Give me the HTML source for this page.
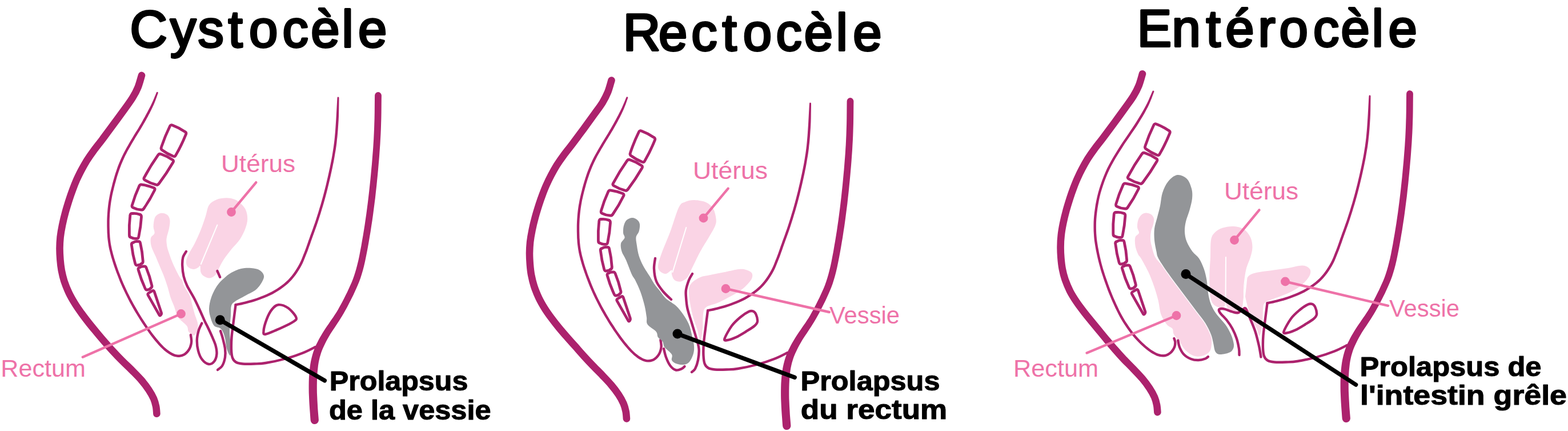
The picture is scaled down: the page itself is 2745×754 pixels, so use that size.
<!DOCTYPE html>
<html lang="fr">
<head>
<meta charset="utf-8">
<title>Cystocèle, Rectocèle, Entérocèle</title>
<style>
html,body{margin:0;padding:0;background:#fff;}
body{width:2745px;height:754px;overflow:hidden;}
svg{display:block;font-family:"Liberation Sans",sans-serif;}
</style>
</head>
<body>
<svg width="2745" height="754" viewBox="0 0 2745 754">
<rect width="2745" height="754" fill="#ffffff"/>
<g id="cystocele">
<text x="227.6 298.0 346.4 399.5 436.1 494.5 544.3 598.4 627.1" y="81.9" font-size="90.5" font-weight="normal" fill="#000" stroke="#000" stroke-width="3.8" stroke-linejoin="round">Cystocèle</text>
<path d="M283.3,372.7C286.3,372.7 290.6,373.9 293.0,376.0C295.4,378.1 296.9,381.5 297.4,385.4C297.9,389.3 296.9,394.4 296.0,399.6C295.1,404.8 292.4,411.8 291.7,416.5C291.0,421.2 291.5,424.2 292.0,428.0C292.5,431.8 292.8,433.4 294.6,439.0C296.4,444.6 299.7,454.1 303.0,461.7C306.3,469.3 311.7,479.7 314.4,484.4C317.1,489.1 317.7,487.4 319.0,490.0C320.3,492.6 319.8,495.5 322.0,500.0C324.2,504.5 329.5,511.2 332.0,517.0C334.5,522.8 335.5,529.5 337.0,535.0C338.5,540.5 339.5,545.0 341.0,550.0C342.5,555.0 345.2,560.5 346.0,565.0C346.8,569.5 346.8,573.5 346.0,577.0C345.2,580.5 342.5,584.5 341.0,586.0C339.5,587.5 338.8,587.0 337.0,586.0C335.2,585.0 331.7,582.7 330.0,580.0C328.3,577.3 330.0,574.2 327.0,570.0C324.0,565.8 315.8,560.8 312.0,555.0C308.2,549.2 306.7,540.7 304.5,535.0C302.3,529.3 300.7,526.6 298.8,521.0C296.9,515.4 295.1,507.4 293.2,501.3C291.3,495.2 289.6,490.0 287.5,484.4C285.4,478.8 283.0,473.5 280.4,467.4C277.8,461.3 274.6,453.7 272.0,447.6C269.4,441.5 266.2,435.9 264.9,430.7C263.6,425.5 263.1,420.3 264.0,416.5C264.9,412.7 269.7,411.3 270.5,408.0C271.3,404.7 268.6,400.9 268.6,396.7C268.6,392.5 269.4,386.1 270.5,382.6C271.6,379.2 272.9,377.6 275.0,376.0C277.1,374.4 280.3,372.7 283.3,372.7Z" fill="#fad4e5"/>
<path d="M396.0,346.3C400.8,346.1 404.4,346.9 408.0,348.0C411.6,349.1 414.0,349.8 417.6,352.8C421.2,355.8 427.0,361.0 429.6,366.0C432.2,371.0 433.2,377.2 433.2,382.8C433.2,388.4 431.8,393.6 429.6,399.6C427.4,405.6 424.0,412.8 420.0,418.8C416.0,424.8 410.4,429.6 405.6,435.6C400.8,441.6 395.0,449.0 391.2,454.8C387.4,460.6 385.2,466.0 382.8,470.4C380.4,474.8 379.4,478.5 376.8,481.2C374.2,483.9 370.4,486.1 367.2,486.5C364.0,486.9 360.2,485.3 357.6,483.6C355.0,481.9 352.8,479.5 351.6,476.4C350.4,473.3 351.2,466.4 350.4,465.0C349.6,463.6 348.8,467.0 346.8,468.0C344.8,469.0 341.4,471.3 338.4,471.1C335.4,470.9 330.9,469.1 328.8,466.8C326.7,464.5 325.7,460.8 325.9,457.2C326.1,453.6 327.5,450.4 330.0,445.2C332.5,440.0 337.2,433.2 340.8,426.0C344.4,418.8 348.4,410.0 351.6,402.0C354.8,394.0 357.6,385.2 360.0,378.0C362.4,370.8 362.8,363.6 366.0,358.8C369.2,354.0 374.2,351.3 379.2,349.2C384.2,347.1 391.2,346.5 396.0,346.3Z" fill="#fad4e5"/>
<line x1="380.4" y1="393.6" x2="351.8" y2="462.0" stroke="#fff" stroke-width="2.0" stroke-linecap="round"/>
<path d="M440.0,469.0C445.5,469.5 451.3,470.3 455.0,473.0C458.7,475.7 462.8,479.7 462.0,485.0C461.2,490.3 455.3,499.7 450.0,505.0C444.7,510.3 436.3,513.3 430.0,517.0C423.7,520.7 416.2,524.0 412.0,527.0C407.8,530.0 406.3,530.8 405.0,535.0C403.7,539.2 404.5,544.5 404.0,552.0C403.5,559.5 402.0,571.2 402.0,580.0C402.0,588.8 403.8,598.0 404.0,605.0C404.2,612.0 404.2,621.2 403.0,622.0C401.8,622.8 398.5,615.0 397.0,610.0C395.5,605.0 395.2,597.0 394.0,592.0C392.8,587.0 391.5,583.0 390.0,580.0C388.5,577.0 387.5,575.7 385.0,574.0C382.5,572.3 377.7,572.8 375.0,570.0C372.3,567.2 370.5,562.0 369.0,557.0C367.5,552.0 365.8,546.2 366.0,540.0C366.2,533.8 367.7,526.7 370.0,520.0C372.3,513.3 376.3,505.5 380.0,500.0C383.7,494.5 387.8,490.8 392.0,487.0C396.2,483.2 400.0,479.8 405.0,477.0C410.0,474.2 416.2,471.3 422.0,470.0C427.8,468.7 434.5,468.5 440.0,469.0Z" fill="#939598"/>
<path d="M248.0,131.9C246.9,135.4 244.2,146.1 241.6,152.6C239.0,159.1 236.1,164.5 232.2,170.8C228.4,177.1 223.9,182.9 218.4,190.6C212.9,198.2 205.9,207.8 199.4,216.6C193.0,225.4 185.4,235.5 179.5,243.4C173.5,251.3 168.3,257.7 163.7,263.9C159.1,270.1 155.6,275.2 152.0,280.8C148.5,286.5 145.4,292.1 142.4,297.8C139.4,303.4 136.7,309.1 134.1,314.7C131.6,320.4 129.5,325.8 127.3,331.7C125.1,337.5 123.1,343.2 121.0,349.7C118.9,356.3 116.6,363.6 114.6,370.9C112.6,378.2 110.6,386.4 109.1,393.8C107.6,401.1 106.4,408.0 105.6,414.8C104.9,421.5 104.6,427.9 104.5,434.5C104.5,441.1 104.9,447.9 105.4,454.2C105.9,460.6 106.6,466.5 107.7,472.8C108.9,479.0 110.3,485.2 112.4,491.8C114.6,498.3 117.5,505.7 120.6,512.2C123.7,518.8 127.4,525.0 131.1,531.0C134.7,537.0 138.6,542.3 142.7,548.0C146.8,553.7 151.2,559.4 155.6,565.0C160.0,570.6 164.7,576.2 169.3,581.8C173.8,587.2 178.3,592.6 183.1,598.0C187.8,603.4 192.4,608.8 197.5,614.2C202.6,619.8 208.0,625.4 213.7,631.0C219.3,636.6 225.5,642.3 231.2,648.0C236.8,653.7 242.6,659.4 247.5,665.0C252.4,670.6 256.8,676.5 260.4,681.9C264.0,687.3 267.0,692.7 269.1,697.5C271.2,702.4 272.2,706.7 273.1,711.1C274.0,715.5 274.2,721.7 274.4,723.8" fill="none" stroke="#ac226d" stroke-width="12.6" stroke-linecap="round" stroke-linejoin="round"/>
<path d="M274.0,161.6L273.2,163.4L272.2,165.9L271.0,168.8L269.7,171.9L268.4,175.0L267.2,177.7L266.1,180.1L265.0,182.4L264.0,184.5L262.9,186.7L261.7,189.0L260.5,191.3L259.2,193.8L257.8,196.4L256.4,199.1L254.9,201.8L253.5,204.4L252.0,207.1L250.6,209.6L249.3,212.0L247.9,214.4L246.5,216.9L244.9,219.5L243.3,222.2L241.6,225.2L239.7,228.2L237.7,231.3L235.7,234.6L233.6,238.1L231.4,241.7L229.1,245.6L226.6,249.8L224.1,254.2L221.6,258.6L219.2,263.0L216.9,267.2L214.9,271.2L213.1,275.1L211.3,278.9L209.7,282.7L208.1,286.6L206.5,290.6L205.0,294.7L203.6,298.9L202.2,303.1L200.9,307.3L199.6,311.7L198.3,316.2L197.0,321.0L195.8,325.9L194.5,331.0L193.3,336.1L192.2,341.2L191.3,346.1L190.4,350.9L189.7,355.6L189.1,360.2L188.6,364.8L188.2,369.4L187.9,373.9L187.6,378.3L187.4,382.7L187.3,387.0L187.3,391.3L187.3,395.5L187.4,399.6L187.5,403.6L187.6,407.5L187.9,411.3L188.1,415.1L188.5,418.9L189.0,422.7L189.5,426.3L190.1,429.9L190.7,433.4L191.5,436.9L192.4,440.6L193.4,444.6L194.5,448.7L195.8,453.1L197.2,457.6L198.7,462.2L200.3,466.9L202.0,471.7L203.8,476.7L205.8,481.8L207.8,487.1L209.9,492.4L212.2,497.7L214.5,502.9L216.9,508.1L219.4,513.3L222.0,518.5L224.6,523.7L227.3,528.9L230.1,534.1L233.0,539.2L236.0,544.4L239.1,549.5L242.2,554.6L245.3,559.6L248.5,564.5L251.7,569.3L254.9,574.0L258.2,578.7L261.4,583.3L264.7,587.7L268.0,591.9L271.2,595.9L274.5,599.7L277.7,603.4L281.0,606.9L284.2,610.0L287.3,612.9L290.5,615.5L293.6,617.8L296.7,619.8L299.7,621.5L302.7,622.9L305.7,624.0L308.5,624.6L311.4,624.9L314.1,624.9L316.7,624.6L319.2,623.9L321.5,623.1L323.8,621.9L325.9,620.5L327.9,618.7L329.6,616.9L331.2,614.9L332.6,612.9L333.8,610.8L334.9,608.5L335.7,606.2L336.4,603.8L336.9,601.5L337.2,599.1L337.4,596.6L337.2,593.9L336.9,591.3L336.6,589.0L336.3,587.1L336.1,585.7A2.20,2.20 0 0 0 331.7,586.3L331.9,587.7L332.2,589.7L332.6,591.9L332.8,594.3L333.0,596.6L332.9,598.7L332.6,600.7L332.1,602.8L331.5,604.8L330.8,606.9L329.9,608.8L328.9,610.5L327.7,612.3L326.3,614.0L324.8,615.6L323.2,617.0L321.5,618.2L319.8,619.1L317.9,619.7L315.9,620.2L313.8,620.5L311.6,620.6L309.3,620.3L306.9,619.7L304.4,618.8L301.8,617.6L299.0,616.0L296.1,614.1L293.2,612.0L290.2,609.6L287.2,606.9L284.1,603.8L281.0,600.4L277.8,596.8L274.6,593.0L271.4,589.1L268.2,585.0L265.0,580.7L261.8,576.2L258.5,571.6L255.3,566.8L252.2,562.0L249.0,557.2L245.9,552.3L242.8,547.2L239.8,542.1L236.9,537.0L234.0,531.9L231.2,526.8L228.5,521.7L225.9,516.6L223.3,511.4L220.9,506.2L218.5,501.1L216.2,495.9L214.0,490.7L211.9,485.4L209.9,480.2L207.9,475.2L206.1,470.3L204.5,465.5L202.9,460.8L201.4,456.3L200.0,451.8L198.8,447.5L197.7,443.4L196.7,439.6L195.8,436.0L195.1,432.5L194.4,429.1L193.8,425.7L193.3,422.1L192.9,418.4L192.5,414.8L192.3,411.0L192.0,407.3L191.9,403.4L191.8,399.4L191.7,395.4L191.7,391.3L191.7,387.1L191.8,382.8L192.0,378.5L192.2,374.2L192.6,369.8L193.0,365.3L193.5,360.8L194.1,356.2L194.8,351.6L195.6,346.9L196.5,342.0L197.6,337.1L198.8,332.0L200.0,327.0L201.3,322.1L202.6,317.4L203.8,312.9L205.1,308.6L206.4,304.4L207.8,300.3L209.2,296.2L210.7,292.2L212.2,288.3L213.8,284.4L215.4,280.7L217.1,276.9L218.9,273.1L220.9,269.2L223.0,265.0L225.4,260.7L227.9,256.4L230.4,252.0L232.9,247.8L235.2,243.9L237.3,240.3L239.4,236.9L241.5,233.6L243.4,230.5L245.3,227.5L247.1,224.5L248.7,221.7L250.3,219.1L251.7,216.6L253.1,214.2L254.5,211.7L255.9,209.2L257.3,206.6L258.8,203.9L260.2,201.1L261.7,198.4L263.0,195.8L264.3,193.2L265.5,190.8L266.6,188.5L267.6,186.3L268.7,184.0L269.7,181.7L270.7,179.2L271.8,176.4L273.0,173.3L274.2,170.0L275.2,167.0L276.1,164.5L276.8,162.6A1.50,1.50 0 0 0 274.0,161.6Z" fill="#ac226d"/>
<path d="M325.9,440.0C325.0,441.7 321.5,445.9 320.4,450.0C319.3,454.1 319.0,458.8 319.2,464.4C319.4,470.0 320.2,477.7 321.6,483.6C323.0,489.5 324.5,493.6 327.6,500.0C330.7,506.4 336.3,514.8 340.0,522.0C343.7,529.2 347.0,536.4 350.0,543.0C353.0,549.6 355.9,556.4 358.2,561.4C360.5,566.4 361.8,568.2 363.9,572.7C366.0,577.2 368.8,583.0 371.0,588.2C373.2,593.4 375.9,598.6 377.3,603.8C378.7,609.0 379.8,614.6 379.4,619.3C379.0,624.0 377.5,629.0 375.2,632.0C372.9,635.0 368.8,637.5 365.3,637.0C361.8,636.5 357.1,633.1 354.0,629.2C350.9,625.3 348.5,619.4 347.0,613.7C345.5,608.1 344.7,601.2 344.8,595.3C344.9,589.4 346.3,583.3 347.7,578.4C349.1,573.5 352.4,567.7 353.3,565.6" fill="none" stroke="#ac226d" stroke-width="4.4" stroke-linecap="round" stroke-linejoin="round"/>
<path d="M386.0,579.0C386.7,581.2 388.7,586.8 390.0,592.0C391.3,597.2 393.3,604.5 394.0,610.0C394.7,615.5 394.8,620.0 394.0,625.0C393.2,630.0 391.2,636.3 389.0,640.0C386.8,643.7 382.3,645.8 381.0,647.0" fill="none" stroke="#ac226d" stroke-width="4.4" stroke-linecap="round" stroke-linejoin="round"/>
<path d="M380.4,474L385.2,484.8" fill="none" stroke="#ac226d" stroke-width="4.4" stroke-linecap="round" stroke-linejoin="round"/>
<path d="M590.5,170.9L590.2,175.2L589.9,181.2L589.5,188.3L589.1,195.8L588.7,203.2L588.3,209.9L587.9,215.9L587.5,221.9L587.1,227.8L586.6,233.5L586.1,239.0L585.6,244.3L585.0,249.2L584.4,253.8L583.8,258.2L583.1,262.6L582.4,267.1L581.6,271.9L580.7,276.9L579.7,281.9L578.7,287.1L577.6,292.5L576.4,298.1L575.1,304.0L573.7,310.3L572.1,317.0L570.5,323.9L568.7,330.9L566.9,337.9L565.1,344.7L563.2,351.4L561.3,358.2L559.2,365.0L557.2,371.7L555.1,378.2L553.2,384.3L551.2,390.2L549.2,395.8L547.3,401.3L545.4,406.5L543.5,411.6L541.8,416.5L540.1,421.1L538.6,425.5L537.2,429.6L535.8,433.6L534.3,437.6L532.7,441.7L531.0,445.8L529.4,450.0L527.8,454.1L526.0,458.1L524.0,462.1L521.8,466.1L519.4,470.1L516.7,474.2L513.9,478.3L510.9,482.3L507.7,486.1L504.3,489.7L500.7,493.1L496.8,496.4L492.8,499.6L488.6,502.5L484.2,505.4L479.9,508.0L475.5,510.5L470.8,512.8L466.1,514.9L461.3,516.9L456.7,518.7L452.3,520.4L448.1,522.0L443.9,523.3L439.9,524.5L436.0,525.6L432.3,526.6L428.8,527.5L425.4,528.3L422.1,529.1L419.0,529.7L416.3,530.2L413.9,530.7L412.2,531.0A2.20,2.20 0 0 0 413.0,535.4L414.8,535.0L417.1,534.6L419.9,534.0L423.1,533.4L426.4,532.6L429.9,531.8L433.4,530.8L437.1,529.8L441.1,528.7L445.2,527.5L449.5,526.1L453.8,524.6L458.3,522.8L463.0,521.0L467.8,519.0L472.7,516.8L477.5,514.4L482.1,511.8L486.6,509.1L491.0,506.2L495.4,503.1L499.6,499.8L503.6,496.4L507.4,492.8L511.0,489.0L514.3,485.0L517.5,480.9L520.4,476.7L523.1,472.5L525.7,468.3L528.0,464.1L530.0,460.0L531.8,455.8L533.5,451.6L535.1,447.5L536.8,443.3L538.4,439.2L539.9,435.1L541.3,431.1L542.8,426.9L544.3,422.6L545.9,418.0L547.7,413.1L549.5,408.0L551.4,402.8L553.4,397.3L555.4,391.6L557.3,385.7L559.3,379.5L561.4,373.0L563.4,366.3L565.5,359.5L567.5,352.6L569.4,345.8L571.2,339.0L573.0,332.0L574.7,324.9L576.4,318.0L578.0,311.3L579.4,305.0L580.7,299.0L581.9,293.4L583.0,288.0L584.1,282.8L585.0,277.7L585.9,272.6L586.7,267.8L587.5,263.3L588.2,258.8L588.8,254.4L589.4,249.7L589.9,244.7L590.5,239.4L591.0,233.9L591.5,228.1L591.9,222.2L592.3,216.2L592.7,210.1L593.0,203.4L593.2,196.0L593.3,188.4L593.4,181.3L593.5,175.3L593.5,171.1A1.50,1.50 0 0 0 590.5,170.9Z" fill="#ac226d"/>
<path d="M412.6,533.2C411.9,538.5 409.7,555.5 408.5,565.0C407.3,574.5 406.1,582.2 405.5,590.0C404.9,597.8 404.8,606.0 405.0,612.0C405.2,618.0 405.7,622.4 407.0,626.0C408.3,629.6 410.0,631.8 413.0,633.5C416.0,635.2 419.7,636.0 425.0,636.5C430.3,637.0 438.3,636.8 445.0,636.5C451.7,636.2 455.8,636.5 465.0,635.0C474.2,633.5 489.2,630.4 500.0,627.5C510.8,624.6 521.3,620.9 530.0,617.5C538.7,614.1 548.3,608.8 552.0,607.0" fill="none" stroke="#ac226d" stroke-width="4.4" stroke-linecap="round" stroke-linejoin="round"/>
<path d="M656.1,166.9L656.0,174.3L655.9,184.9L655.8,196.6L655.6,207.4L655.3,216.8L655.0,226.1L654.6,235.1L654.2,243.4L653.7,251.0L653.3,257.8L652.8,264.6L652.2,271.8L651.6,279.4L651.0,287.1L650.2,295.2L649.4,303.9L648.5,313.5L647.4,323.8L646.3,334.3L645.1,344.6L643.9,354.6L642.6,364.6L641.3,374.4L639.9,384.1L638.5,393.7L637.0,403.0L635.5,412.2L633.9,421.2L632.4,430.2L630.7,439.0L629.1,447.5L627.4,455.4L625.6,462.8L623.8,469.8L621.9,476.3L619.9,482.6L617.8,488.5L615.5,494.2L613.0,499.7L610.5,505.3L607.9,510.9L605.2,516.3L602.5,521.7L599.8,527.0L597.1,532.1L594.3,537.1L591.6,541.9L588.9,546.4L586.2,550.6L583.5,554.7L580.8,558.6L578.0,562.6L575.4,566.5L572.7,570.3L570.0,574.2L567.4,578.2L564.9,582.2L562.4,586.4L560.0,590.6L557.7,594.8L555.6,598.9L553.5,603.1L551.6,607.5L549.8,612.0L548.2,616.6L546.8,621.3L545.5,626.3L544.3,631.5L543.3,637.0L542.5,642.7L541.8,648.7L541.3,654.8L540.9,661.1L540.7,667.6L540.6,674.2L540.6,680.8L540.7,687.6L541.0,694.4L541.3,701.3L541.7,708.2L542.2,715.7L542.8,723.6L543.3,730.7L543.7,735.6A7.10,7.10 0 0 0 557.9,734.4L557.5,729.5L556.9,722.5L556.3,714.7L555.9,707.3L555.5,700.6L555.2,693.8L554.9,687.2L554.8,680.7L554.8,674.2L554.9,667.9L555.1,661.7L555.4,655.7L555.8,650.0L556.4,644.4L557.0,639.1L557.8,634.0L558.8,629.3L559.8,624.9L561.1,620.7L562.4,616.5L563.9,612.5L565.6,608.6L567.4,604.7L569.3,600.7L571.3,596.7L573.5,592.7L575.8,588.8L578.1,584.8L580.5,581.0L583.0,577.3L585.6,573.4L588.2,569.4L590.8,565.4L593.5,561.4L596.3,557.1L599.1,552.6L601.9,547.8L604.7,542.8L607.5,537.7L610.2,532.5L613.0,527.1L615.8,521.6L618.6,515.9L621.2,510.2L623.8,504.5L626.3,498.8L628.8,492.8L631.1,486.4L633.2,479.8L635.2,472.9L637.1,465.7L638.9,458.1L640.6,449.8L642.3,441.2L644.0,432.3L645.6,423.3L647.1,414.2L648.7,404.9L650.1,395.4L651.6,385.9L653.0,376.1L654.3,366.1L655.6,356.1L656.9,345.9L658.0,335.6L659.2,325.0L660.2,314.7L661.2,305.1L662.0,296.3L662.7,288.1L663.4,280.3L664.0,272.7L664.5,265.5L665.0,258.7L665.5,251.7L665.9,244.1L666.4,235.6L666.8,226.6L667.1,217.2L667.4,207.6L667.6,196.8L667.7,185.0L667.8,174.4L667.9,167.1A5.90,5.90 0 0 0 656.1,166.9Z" fill="#ac226d"/>
<path d="M487.2,533.2C491.9,532.8 499.1,535.2 504.3,538.8C509.5,542.4 516.8,551.0 518.3,555.0C519.8,559.0 518.5,559.4 513.6,562.8C508.7,566.2 496.8,571.6 488.8,575.2C480.8,578.8 470.1,583.7 465.5,584.5C460.9,585.3 461.1,584.3 461.4,579.9C461.6,575.5 464.5,564.6 467.0,558.1C469.5,551.6 472.9,545.1 476.3,541.0C479.7,536.9 482.5,533.6 487.2,533.2Z" fill="none" stroke="#ac226d" stroke-width="4.4" stroke-linecap="round" stroke-linejoin="round"/>
<path d="M302.3,219.3Q313.5,223.5 323.4,230.2Q327.0,232.0 325.2,235.6Q317.8,254.1 307.8,271.4Q306.0,275.0 302.5,273.0Q292.8,269.2 284.5,263.0Q281.0,261.0 282.5,257.3Q288.6,238.7 297.2,221.2Q298.7,217.5 302.3,219.3Z" fill="#fff" stroke="#ac226d" stroke-width="4.8" stroke-linejoin="round"/>
<path d="M282.3,269.8Q292.5,273.2 301.4,279.2Q305.0,281.0 302.8,284.3Q291.7,303.5 278.2,321.2Q276.0,324.5 272.3,322.9Q262.7,320.4 254.2,315.3Q250.5,313.7 252.6,310.3Q263.4,290.1 276.6,271.4Q278.7,268.0 282.3,269.8Z" fill="#fff" stroke="#ac226d" stroke-width="4.8" stroke-linejoin="round"/>
<path d="M248.9,323.1Q259.1,324.4 268.6,328.4Q272.5,329.5 270.5,333.0Q262.5,349.5 252.0,364.5Q250.0,368.0 246.1,366.9Q239.6,366.6 233.9,363.6Q230.0,362.5 231.4,358.7Q236.2,341.8 243.6,325.8Q245.0,322.0 248.9,323.1Z" fill="#fff" stroke="#ac226d" stroke-width="4.8" stroke-linejoin="round"/>
<path d="M232.0,373.5Q238.2,372.9 244.0,375.0Q248.0,375.5 247.5,379.5Q246.5,396.9 242.8,414.0Q242.3,418.0 238.4,417.3Q234.0,417.9 230.1,415.7Q226.2,415.0 226.4,411.0Q225.7,393.9 227.8,377.0Q228.0,373.0 232.0,373.5Z" fill="#fff" stroke="#ac226d" stroke-width="4.8" stroke-linejoin="round"/>
<path d="M233.5,424.1Q237.1,421.9 241.2,422.5Q245.1,421.6 245.7,425.6Q249.3,440.7 250.2,456.3Q250.8,460.3 247.0,461.6Q244.6,464.0 241.3,463.7Q237.5,465.0 236.7,461.1Q232.2,445.3 230.4,428.9Q229.6,425.0 233.5,424.1Z" fill="#fff" stroke="#ac226d" stroke-width="4.8" stroke-linejoin="round"/>
<path d="M244.8,467.8Q247.6,465.6 251.1,466.1Q255.0,465.1 256.2,468.9Q262.3,483.5 265.7,498.9Q266.9,502.7 263.3,504.5Q261.9,506.8 259.2,506.6Q255.6,508.4 254.2,504.7Q246.9,489.1 242.3,472.5Q240.9,468.8 244.8,467.8Z" fill="#fff" stroke="#ac226d" stroke-width="4.8" stroke-linejoin="round"/>
<path d="M260.4,512.5L266.5,509.0Q269.1,507.5 270.1,510.3L282.4,547.1Q283.0,549.0 281.8,550.6L281.2,551.4Q280.0,553.0 279.0,551.3L259.3,516.6Q257.8,514.0 260.4,512.5Z" fill="#fff" stroke="#ac226d" stroke-width="4.8" stroke-linejoin="round"/>
<line x1="405.0" y1="371.0" x2="448.3" y2="319.2" stroke="#ee72a8" stroke-width="4.4" stroke-linecap="round"/>
<circle cx="405.0" cy="371.0" r="7.9" fill="#ee72a8"/>
<text x="387.0" y="300.8" font-size="41.6" font-weight="normal" fill="#ee72a8" textLength="130.0" lengthAdjust="spacingAndGlyphs">Utérus</text>
<line x1="317.0" y1="549.0" x2="144.8" y2="624.7" stroke="#ee72a8" stroke-width="4.4" stroke-linecap="round"/>
<circle cx="317.0" cy="549.0" r="7.9" fill="#ee72a8"/>
<text x="1.3" y="658.6" font-size="41.6" font-weight="normal" fill="#ee72a8" textLength="148.5" lengthAdjust="spacingAndGlyphs">Rectum</text>
<line x1="385.3" y1="559.8" x2="568.3" y2="665.8" stroke="#000" stroke-width="7.4" stroke-linecap="round"/>
<circle cx="385.3" cy="559.8" r="8.5" fill="#000"/>
<text x="576.8" y="683.4" font-size="48.6" font-weight="bold" fill="#000" stroke="#000" stroke-width="1.1" stroke-linejoin="round" textLength="242.5" lengthAdjust="spacingAndGlyphs">Prolapsus</text>
<text x="576.0" y="734.2" font-size="48.6" font-weight="bold" fill="#000" stroke="#000" stroke-width="1.1" stroke-linejoin="round" textLength="283.5" lengthAdjust="spacingAndGlyphs">de la vessie</text>
</g>
<g id="rectocele">
<text x="1090.8 1153.0 1210.2 1264.5 1300.7 1358.6 1407.8 1463.8 1493.2" y="87.5" font-size="90.5" font-weight="normal" fill="#000" stroke="#000" stroke-width="3.8" stroke-linejoin="round">Rectocèle</text>
<path d="M1216.0,350.0C1222.0,350.2 1230.6,351.5 1236.0,354.0C1241.4,356.5 1245.6,360.2 1248.5,365.0C1251.4,369.8 1252.9,377.5 1253.5,382.5C1254.1,387.5 1254.1,389.6 1252.0,395.0C1249.9,400.4 1245.3,407.5 1241.0,415.0C1236.7,422.5 1231.0,430.8 1226.0,440.0C1221.0,449.2 1214.8,462.5 1211.0,470.0C1207.2,477.5 1206.7,481.2 1203.5,485.0C1200.3,488.8 1195.8,491.7 1192.0,492.5C1188.2,493.3 1183.7,492.1 1181.0,490.0C1178.3,487.9 1176.8,482.9 1176.0,480.0C1175.2,477.1 1177.7,472.7 1176.0,472.5C1174.3,472.3 1169.3,478.6 1166.0,479.0C1162.7,479.4 1158.3,477.3 1156.0,475.0C1153.7,472.7 1151.6,470.4 1152.0,465.0C1152.4,459.6 1154.9,452.5 1158.5,442.5C1162.1,432.5 1168.5,418.3 1173.5,405.0C1178.5,391.7 1184.1,371.2 1188.5,362.5C1192.9,353.8 1195.4,355.1 1200.0,353.0C1204.6,350.9 1210.0,349.8 1216.0,350.0Z" fill="#fad4e5"/>
<line x1="1201.3" y1="398.0" x2="1177.5" y2="476.0" stroke="#fff" stroke-width="2.0" stroke-linecap="round"/>
<path d="M1316.0,477.5C1314.3,474.9 1309.8,473.1 1306.0,472.0C1302.2,470.9 1299.8,470.3 1293.5,471.0C1287.2,471.7 1276.8,474.3 1268.5,476.0C1260.2,477.7 1250.6,479.5 1243.5,481.0C1236.4,482.5 1231.4,482.7 1226.0,485.0C1220.6,487.3 1214.3,491.2 1211.0,495.0C1207.7,498.8 1206.4,501.2 1206.0,507.5C1205.6,513.8 1207.2,524.6 1208.5,532.5C1209.8,540.4 1211.4,547.5 1213.5,555.0C1215.6,562.5 1218.9,570.4 1221.0,577.5C1223.1,584.6 1224.5,597.9 1226.0,597.5C1227.5,597.1 1229.2,582.9 1230.0,575.0C1230.8,567.1 1230.0,556.2 1231.0,550.0C1232.0,543.8 1231.8,540.8 1236.0,537.5C1240.2,534.2 1249.3,532.9 1256.0,530.0C1262.7,527.1 1269.8,523.3 1276.0,520.0C1282.2,516.7 1288.5,513.3 1293.5,510.0C1298.5,506.7 1302.2,503.8 1306.0,500.0C1309.8,496.2 1314.3,491.2 1316.0,487.5C1317.7,483.8 1317.7,480.1 1316.0,477.5Z" fill="#fad4e5"/>
<path d="M1070.5,140.5C1069.4,144.0 1066.7,154.7 1064.1,161.2C1061.5,167.7 1058.6,173.1 1054.8,179.4C1050.9,185.7 1046.4,191.5 1040.9,199.2C1035.4,206.8 1028.4,216.4 1022.0,225.2C1015.5,234.0 1007.9,244.1 1002.0,252.0C996.0,259.9 990.8,266.3 986.2,272.5C981.6,278.7 978.1,283.8 974.5,289.4C971.0,295.1 967.9,300.7 964.9,306.4C961.9,312.0 959.2,317.7 956.7,323.3C954.1,329.0 952.0,334.4 949.8,340.3C947.6,346.1 945.6,351.8 943.5,358.3C941.4,364.9 939.1,372.2 937.1,379.5C935.1,386.8 933.1,395.0 931.6,402.4C930.1,409.7 928.9,416.6 928.1,423.4C927.4,430.1 927.1,436.5 927.0,443.1C927.0,449.7 927.4,456.5 927.9,462.9C928.4,469.2 929.0,475.1 930.2,481.4C931.4,487.6 932.8,493.8 935.0,500.4C937.1,506.9 940.0,514.3 943.2,520.9C946.3,527.4 949.9,533.6 953.6,539.6C957.3,545.6 961.2,550.9 965.4,556.6C969.6,562.3 974.1,568.0 978.8,573.6C983.4,579.2 988.4,584.9 993.2,590.4C998.0,595.9 1002.8,601.2 1007.7,606.6C1012.5,612.0 1017.2,617.4 1022.2,622.9C1027.2,628.4 1032.4,634.0 1037.8,639.6C1043.1,645.2 1049.1,650.9 1054.5,656.6C1059.9,662.3 1065.5,668.0 1070.2,673.6C1075.0,679.2 1079.4,685.1 1083.0,690.5C1086.6,695.9 1089.5,701.3 1091.6,706.1C1093.7,711.0 1094.7,715.3 1095.6,719.7C1096.5,724.1 1096.7,730.3 1096.9,732.4" fill="none" stroke="#ac226d" stroke-width="12.6" stroke-linecap="round" stroke-linejoin="round"/>
<path d="M1096.5,170.2L1095.7,172.0L1094.7,174.5L1093.5,177.4L1092.2,180.5L1090.9,183.6L1089.7,186.3L1088.6,188.7L1087.5,191.0L1086.5,193.1L1085.4,195.3L1084.2,197.6L1083.0,199.9L1081.7,202.4L1080.3,205.0L1078.9,207.7L1077.4,210.4L1076.0,213.0L1074.5,215.7L1073.1,218.2L1071.8,220.6L1070.4,223.0L1069.0,225.5L1067.4,228.1L1065.8,230.8L1064.1,233.8L1062.2,236.8L1060.2,239.9L1058.2,243.2L1056.1,246.7L1053.9,250.3L1051.6,254.2L1049.1,258.4L1046.6,262.8L1044.1,267.2L1041.7,271.6L1039.4,275.8L1037.4,279.8L1035.6,283.7L1033.8,287.5L1032.2,291.3L1030.6,295.2L1029.0,299.2L1027.5,303.3L1026.1,307.5L1024.7,311.7L1023.4,315.9L1022.1,320.3L1020.8,324.8L1019.5,329.6L1018.3,334.5L1017.0,339.6L1015.8,344.7L1014.7,349.8L1013.8,354.7L1012.9,359.5L1012.2,364.2L1011.6,368.8L1011.1,373.4L1010.7,378.0L1010.4,382.5L1010.1,386.9L1009.9,391.3L1009.8,395.6L1009.8,399.9L1009.8,404.1L1009.9,408.2L1010.0,412.2L1010.1,416.1L1010.4,419.9L1010.6,423.7L1011.0,427.5L1011.5,431.3L1012.0,434.9L1012.6,438.5L1013.2,442.0L1014.0,445.5L1014.9,449.2L1015.9,453.2L1017.0,457.3L1018.3,461.7L1019.7,466.2L1021.2,470.8L1022.8,475.5L1024.5,480.3L1026.3,485.3L1028.3,490.4L1030.3,495.7L1032.4,501.0L1034.7,506.3L1037.0,511.5L1039.4,516.7L1041.9,521.9L1044.5,527.1L1047.1,532.3L1049.8,537.5L1052.6,542.7L1055.5,547.8L1058.5,553.0L1061.6,558.1L1064.7,563.2L1067.8,568.2L1071.0,573.1L1074.2,577.9L1077.4,582.6L1080.7,587.3L1083.9,591.9L1087.2,596.3L1090.5,600.5L1093.7,604.5L1097.0,608.3L1100.2,612.0L1103.5,615.5L1106.7,618.6L1109.8,621.5L1113.0,624.1L1116.1,626.4L1119.2,628.4L1122.2,630.1L1125.2,631.5L1128.2,632.6L1131.0,633.2L1133.9,633.5L1136.6,633.5L1139.2,633.2L1141.7,632.5L1144.0,631.7L1146.3,630.5L1148.4,629.1L1150.4,627.3L1152.1,625.5L1153.7,623.5L1155.1,621.5L1156.3,619.4L1157.4,617.1L1158.2,614.8L1158.9,612.4L1159.4,610.1L1159.7,607.7L1159.9,605.2L1159.7,602.5L1159.4,599.9L1159.1,597.6L1158.8,595.7L1158.6,594.3A2.20,2.20 0 0 0 1154.2,594.9L1154.4,596.3L1154.7,598.3L1155.1,600.5L1155.3,602.9L1155.5,605.2L1155.4,607.3L1155.1,609.3L1154.6,611.4L1154.0,613.4L1153.3,615.5L1152.4,617.4L1151.4,619.1L1150.2,620.9L1148.8,622.6L1147.3,624.2L1145.7,625.6L1144.0,626.8L1142.3,627.7L1140.4,628.3L1138.4,628.8L1136.3,629.1L1134.1,629.2L1131.8,628.9L1129.4,628.3L1126.9,627.4L1124.3,626.2L1121.5,624.6L1118.6,622.7L1115.7,620.6L1112.7,618.2L1109.7,615.5L1106.6,612.4L1103.5,609.0L1100.3,605.4L1097.1,601.6L1093.9,597.7L1090.7,593.6L1087.5,589.3L1084.3,584.8L1081.0,580.2L1077.8,575.4L1074.7,570.6L1071.5,565.8L1068.4,560.9L1065.3,555.8L1062.3,550.7L1059.4,545.6L1056.5,540.5L1053.7,535.4L1051.0,530.3L1048.4,525.2L1045.8,520.0L1043.4,514.8L1041.0,509.7L1038.7,504.5L1036.5,499.3L1034.4,494.0L1032.4,488.8L1030.4,483.8L1028.6,478.9L1027.0,474.1L1025.4,469.4L1023.9,464.9L1022.5,460.4L1021.3,456.1L1020.2,452.0L1019.2,448.2L1018.3,444.6L1017.6,441.1L1016.9,437.7L1016.3,434.3L1015.8,430.7L1015.4,427.0L1015.0,423.4L1014.8,419.6L1014.5,415.9L1014.4,412.0L1014.3,408.0L1014.2,404.0L1014.2,399.9L1014.2,395.7L1014.3,391.4L1014.5,387.1L1014.7,382.8L1015.1,378.4L1015.5,373.9L1016.0,369.4L1016.6,364.8L1017.3,360.2L1018.1,355.5L1019.0,350.6L1020.1,345.7L1021.3,340.6L1022.5,335.6L1023.8,330.7L1025.1,326.0L1026.3,321.5L1027.6,317.2L1028.9,313.0L1030.3,308.9L1031.7,304.8L1033.2,300.8L1034.7,296.9L1036.3,293.0L1037.9,289.3L1039.6,285.5L1041.4,281.7L1043.4,277.8L1045.5,273.6L1047.9,269.3L1050.4,265.0L1052.9,260.6L1055.4,256.4L1057.7,252.5L1059.8,248.9L1061.9,245.5L1064.0,242.2L1065.9,239.1L1067.8,236.1L1069.6,233.1L1071.2,230.3L1072.8,227.7L1074.2,225.2L1075.6,222.8L1077.0,220.3L1078.4,217.8L1079.8,215.2L1081.3,212.5L1082.7,209.7L1084.2,207.0L1085.5,204.4L1086.8,201.8L1088.0,199.4L1089.1,197.1L1090.1,194.9L1091.2,192.6L1092.2,190.3L1093.2,187.8L1094.3,185.0L1095.5,181.9L1096.7,178.6L1097.7,175.6L1098.6,173.1L1099.3,171.2A1.50,1.50 0 0 0 1096.5,170.2Z" fill="#ac226d"/>
<path d="M1162.0,610.0C1162.7,612.5 1164.1,620.0 1166.0,625.0C1167.9,630.0 1170.6,636.2 1173.5,640.0C1176.4,643.8 1180.2,646.7 1183.5,647.5C1186.8,648.3 1191.0,646.1 1193.5,645.0C1196.0,643.9 1197.7,641.7 1198.5,641.0" fill="none" stroke="#ac226d" stroke-width="4.4" stroke-linecap="round" stroke-linejoin="round"/>
<path d="M1107.0,381.0C1110.2,381.0 1113.8,383.1 1116.0,385.0C1118.2,386.9 1119.6,389.2 1120.0,392.5C1120.4,395.8 1119.6,401.2 1118.5,405.0C1117.4,408.8 1114.1,410.8 1113.5,415.0C1112.9,419.2 1114.2,424.6 1115.0,430.0C1115.8,435.4 1116.7,441.7 1118.5,447.5C1120.3,453.3 1122.7,458.8 1126.0,465.0C1129.3,471.2 1135.2,479.6 1138.5,485.0C1141.8,490.4 1143.1,493.3 1146.0,497.5C1148.9,501.7 1152.7,505.8 1156.0,510.0C1159.3,514.2 1161.4,518.3 1166.0,522.5C1170.6,526.7 1178.5,530.4 1183.5,535.0C1188.5,539.6 1192.2,544.6 1196.0,550.0C1199.8,555.4 1203.5,561.7 1206.0,567.5C1208.5,573.3 1209.5,578.8 1211.0,585.0C1212.5,591.2 1214.6,599.2 1215.0,605.0C1215.4,610.8 1215.0,615.2 1213.5,620.0C1212.0,624.8 1208.9,631.0 1206.0,634.0C1203.1,637.0 1199.8,637.7 1196.0,638.0C1192.2,638.3 1186.8,637.3 1183.5,636.0C1180.2,634.7 1177.2,632.7 1176.0,630.0C1174.8,627.3 1178.1,623.8 1176.0,620.0C1173.9,616.2 1166.2,611.2 1163.5,607.5C1160.8,603.8 1161.9,600.4 1160.0,597.5C1158.1,594.6 1153.9,592.9 1152.0,590.0C1150.1,587.1 1151.6,583.8 1148.5,580.0C1145.4,576.2 1136.2,571.7 1133.5,567.5C1130.8,563.3 1132.8,560.4 1132.0,555.0C1131.2,549.6 1130.3,542.5 1128.5,535.0C1126.7,527.5 1123.8,517.5 1121.0,510.0C1118.2,502.5 1114.5,495.0 1112.0,490.0C1109.5,485.0 1108.7,485.8 1106.0,480.0C1103.3,474.2 1098.9,461.7 1096.0,455.0C1093.1,448.3 1090.0,444.8 1088.5,440.0C1087.0,435.2 1086.2,430.0 1087.0,426.0C1087.8,422.0 1092.8,419.1 1093.5,416.0C1094.2,412.9 1091.2,411.0 1091.0,407.5C1090.8,404.0 1091.0,398.8 1092.0,395.0C1093.0,391.2 1094.5,387.3 1097.0,385.0C1099.5,382.7 1103.8,381.0 1107.0,381.0Z" fill="#939598"/>
<path d="M1147.0,452.0C1146.7,455.0 1144.7,463.3 1145.0,470.0C1145.3,476.7 1146.3,485.3 1149.0,492.0C1151.7,498.7 1156.7,504.7 1161.0,510.0C1165.3,515.3 1172.7,521.7 1175.0,524.0" fill="none" stroke="#ac226d" stroke-width="4.4" stroke-linecap="round" stroke-linejoin="round"/>
<path d="M1212.0,479.0C1211.0,480.8 1207.8,485.3 1206.0,490.0C1204.2,494.7 1201.8,502.0 1201.0,507.0C1200.2,512.0 1200.6,514.5 1201.0,520.0C1201.4,525.5 1201.8,532.5 1203.5,540.0C1205.2,547.5 1208.5,556.7 1211.0,565.0C1213.5,573.3 1216.4,582.5 1218.5,590.0C1220.6,597.5 1222.9,603.3 1223.5,610.0C1224.1,616.7 1223.1,624.2 1222.0,630.0C1220.9,635.8 1218.8,641.5 1217.0,645.0C1215.2,648.5 1212.0,650.0 1211.0,651.0" fill="none" stroke="#ac226d" stroke-width="4.4" stroke-linecap="round" stroke-linejoin="round"/>
<path d="M1417.0,180.9L1416.7,185.2L1416.4,191.2L1416.0,198.3L1415.6,205.8L1415.2,213.2L1414.8,219.9L1414.4,225.9L1414.0,231.9L1413.6,237.8L1413.1,243.5L1412.6,249.0L1412.1,254.3L1411.5,259.2L1410.9,263.8L1410.3,268.2L1409.6,272.6L1408.9,277.1L1408.1,281.9L1407.2,286.9L1406.2,291.9L1405.2,297.1L1404.1,302.5L1402.9,308.1L1401.6,314.0L1400.2,320.3L1398.6,327.0L1397.0,333.9L1395.2,340.9L1393.4,347.9L1391.6,354.7L1389.7,361.4L1387.8,368.2L1385.7,375.0L1383.7,381.7L1381.6,388.2L1379.7,394.3L1377.7,400.2L1375.7,405.8L1373.8,411.3L1371.9,416.5L1370.0,421.6L1368.3,426.5L1366.6,431.1L1365.1,435.5L1363.7,439.6L1362.3,443.6L1360.8,447.6L1359.2,451.7L1357.5,455.8L1355.9,460.0L1354.3,464.1L1352.5,468.1L1350.5,472.1L1348.3,476.1L1345.9,480.1L1343.2,484.2L1340.4,488.3L1337.4,492.3L1334.2,496.1L1330.8,499.7L1327.2,503.1L1323.3,506.4L1319.3,509.6L1315.1,512.5L1310.7,515.4L1306.4,518.0L1302.0,520.5L1297.3,522.8L1292.6,524.9L1287.8,526.9L1283.2,528.7L1278.8,530.4L1274.6,532.0L1270.4,533.3L1266.4,534.5L1262.5,535.6L1258.8,536.6L1255.3,537.5L1251.9,538.3L1248.6,539.1L1245.5,539.7L1242.8,540.2L1240.4,540.7L1238.7,541.0A2.20,2.20 0 0 0 1239.5,545.4L1241.3,545.0L1243.6,544.6L1246.4,544.0L1249.6,543.4L1252.9,542.6L1256.4,541.8L1259.9,540.8L1263.6,539.8L1267.6,538.7L1271.7,537.5L1276.0,536.1L1280.3,534.6L1284.8,532.8L1289.5,531.0L1294.3,529.0L1299.2,526.8L1304.0,524.4L1308.6,521.8L1313.1,519.1L1317.5,516.2L1321.9,513.1L1326.1,509.8L1330.1,506.4L1333.9,502.8L1337.5,499.0L1340.8,495.0L1344.0,490.9L1346.9,486.7L1349.6,482.5L1352.2,478.3L1354.5,474.1L1356.5,470.0L1358.3,465.8L1360.0,461.6L1361.6,457.5L1363.3,453.3L1364.9,449.2L1366.4,445.1L1367.8,441.1L1369.3,436.9L1370.8,432.6L1372.4,428.0L1374.2,423.1L1376.0,418.0L1377.9,412.8L1379.9,407.3L1381.9,401.6L1383.8,395.7L1385.8,389.5L1387.9,383.0L1389.9,376.3L1392.0,369.5L1394.0,362.6L1395.9,355.8L1397.7,349.0L1399.5,342.0L1401.2,334.9L1402.9,328.0L1404.5,321.3L1405.9,315.0L1407.2,309.0L1408.4,303.4L1409.5,298.0L1410.6,292.8L1411.5,287.7L1412.4,282.6L1413.2,277.8L1414.0,273.3L1414.7,268.8L1415.3,264.4L1415.9,259.7L1416.4,254.7L1417.0,249.4L1417.5,243.9L1418.0,238.1L1418.4,232.2L1418.8,226.2L1419.2,220.1L1419.5,213.4L1419.7,206.0L1419.8,198.4L1419.9,191.3L1420.0,185.3L1420.0,181.1A1.50,1.50 0 0 0 1417.0,180.9Z" fill="#ac226d"/>
<path d="M1239.1,543.2C1238.4,548.5 1236.2,565.5 1235.0,575.0C1233.8,584.5 1232.6,592.2 1232.0,600.0C1231.4,607.8 1231.2,616.0 1231.5,622.0C1231.8,628.0 1232.2,632.4 1233.5,636.0C1234.8,639.6 1236.5,641.8 1239.5,643.5C1242.5,645.2 1246.2,646.0 1251.5,646.5C1256.8,647.0 1264.8,646.8 1271.5,646.5C1278.2,646.2 1282.3,646.5 1291.5,645.0C1300.7,643.5 1315.7,640.4 1326.5,637.5C1337.3,634.6 1347.8,630.9 1356.5,627.5C1365.2,624.1 1374.8,618.8 1378.5,617.0" fill="none" stroke="#ac226d" stroke-width="4.4" stroke-linecap="round" stroke-linejoin="round"/>
<path d="M1482.6,176.9L1482.5,184.3L1482.4,194.9L1482.3,206.6L1482.1,217.4L1481.8,226.8L1481.5,236.1L1481.1,245.1L1480.7,253.4L1480.2,261.0L1479.8,267.8L1479.3,274.6L1478.7,281.8L1478.1,289.4L1477.5,297.1L1476.7,305.2L1475.9,313.9L1475.0,323.5L1473.9,333.8L1472.8,344.3L1471.6,354.6L1470.4,364.6L1469.1,374.6L1467.8,384.4L1466.4,394.1L1465.0,403.7L1463.5,413.0L1462.0,422.2L1460.4,431.2L1458.9,440.2L1457.2,449.0L1455.6,457.5L1453.9,465.4L1452.1,472.8L1450.3,479.8L1448.4,486.3L1446.4,492.6L1444.3,498.5L1442.0,504.2L1439.5,509.7L1437.0,515.3L1434.4,520.9L1431.7,526.3L1429.0,531.7L1426.3,537.0L1423.6,542.1L1420.8,547.1L1418.1,551.9L1415.4,556.4L1412.7,560.6L1410.0,564.7L1407.3,568.6L1404.5,572.6L1401.9,576.5L1399.2,580.3L1396.5,584.2L1393.9,588.2L1391.4,592.2L1388.9,596.4L1386.5,600.6L1384.2,604.8L1382.1,608.9L1380.0,613.1L1378.1,617.5L1376.3,622.0L1374.7,626.6L1373.3,631.3L1372.0,636.3L1370.8,641.5L1369.8,647.0L1369.0,652.7L1368.3,658.7L1367.8,664.8L1367.4,671.1L1367.2,677.6L1367.1,684.2L1367.1,690.8L1367.2,697.6L1367.5,704.4L1367.8,711.3L1368.2,718.2L1368.7,725.7L1369.3,733.6L1369.8,740.7L1370.2,745.6A7.10,7.10 0 0 0 1384.4,744.4L1384.0,739.5L1383.4,732.5L1382.8,724.7L1382.4,717.3L1382.0,710.6L1381.7,703.8L1381.4,697.2L1381.3,690.7L1381.3,684.2L1381.4,677.9L1381.6,671.7L1381.9,665.7L1382.3,660.0L1382.9,654.4L1383.5,649.1L1384.3,644.0L1385.3,639.3L1386.3,634.9L1387.6,630.7L1388.9,626.5L1390.4,622.5L1392.1,618.6L1393.9,614.7L1395.8,610.7L1397.8,606.7L1400.0,602.7L1402.3,598.8L1404.6,594.8L1407.0,591.0L1409.5,587.3L1412.1,583.4L1414.7,579.4L1417.3,575.4L1420.0,571.4L1422.8,567.1L1425.6,562.6L1428.4,557.8L1431.2,552.8L1434.0,547.7L1436.7,542.5L1439.5,537.1L1442.3,531.6L1445.1,525.9L1447.7,520.2L1450.3,514.5L1452.8,508.8L1455.3,502.8L1457.6,496.4L1459.7,489.8L1461.7,482.9L1463.6,475.7L1465.4,468.1L1467.1,459.8L1468.8,451.2L1470.5,442.3L1472.1,433.3L1473.6,424.2L1475.2,414.9L1476.6,405.4L1478.1,395.9L1479.5,386.1L1480.8,376.1L1482.1,366.1L1483.4,355.9L1484.5,345.6L1485.7,335.0L1486.7,324.7L1487.7,315.1L1488.5,306.3L1489.2,298.1L1489.9,290.3L1490.5,282.7L1491.0,275.5L1491.5,268.7L1492.0,261.7L1492.4,254.1L1492.9,245.6L1493.3,236.6L1493.6,227.2L1493.9,217.6L1494.1,206.8L1494.2,195.0L1494.3,184.4L1494.4,177.1A5.90,5.90 0 0 0 1482.6,176.9Z" fill="#ac226d"/>
<path d="M1268.5,592.5C1269.8,588.3 1276.4,576.2 1281.0,570.0C1285.6,563.8 1291.0,559.2 1296.0,555.0C1301.0,550.8 1307.2,546.8 1311.0,545.0C1314.8,543.2 1316.4,543.7 1318.5,544.5C1320.6,545.3 1322.2,547.0 1323.5,550.0C1324.8,553.0 1326.4,559.2 1326.0,562.5C1325.6,565.8 1324.3,567.1 1321.0,570.0C1317.7,572.9 1311.4,576.7 1306.0,580.0C1300.6,583.3 1293.9,587.5 1288.5,590.0C1283.1,592.5 1276.8,594.6 1273.5,595.0C1270.2,595.4 1267.2,596.7 1268.5,592.5Z" fill="none" stroke="#ac226d" stroke-width="4.4" stroke-linecap="round" stroke-linejoin="round"/>
<path d="M1123.3,229.3Q1134.5,233.5 1144.4,240.2Q1148.0,242.0 1146.2,245.6Q1138.8,264.1 1128.8,281.4Q1127.0,285.0 1123.5,283.0Q1113.8,279.2 1105.5,273.0Q1102.0,271.0 1103.5,267.3Q1109.6,248.7 1118.2,231.2Q1119.7,227.5 1123.3,229.3Z" fill="#fff" stroke="#ac226d" stroke-width="4.8" stroke-linejoin="round"/>
<path d="M1103.3,279.8Q1113.5,283.2 1122.4,289.2Q1126.0,291.0 1123.8,294.3Q1112.7,313.5 1099.2,331.2Q1097.0,334.5 1093.3,332.9Q1083.7,330.4 1075.2,325.3Q1071.5,323.7 1073.6,320.3Q1084.4,300.1 1097.6,281.4Q1099.7,278.0 1103.3,279.8Z" fill="#fff" stroke="#ac226d" stroke-width="4.8" stroke-linejoin="round"/>
<path d="M1069.9,333.1Q1080.1,334.4 1089.6,338.4Q1093.5,339.5 1091.5,343.0Q1083.5,359.5 1073.0,374.5Q1071.0,378.0 1067.1,376.9Q1060.6,376.6 1054.9,373.6Q1051.0,372.5 1052.4,368.7Q1057.2,351.8 1064.6,335.8Q1066.0,332.0 1069.9,333.1Z" fill="#fff" stroke="#ac226d" stroke-width="4.8" stroke-linejoin="round"/>
<path d="M1053.0,383.5Q1059.2,382.9 1065.0,385.0Q1069.0,385.5 1068.5,389.5Q1067.5,406.9 1063.8,424.0Q1063.3,428.0 1059.4,427.3Q1055.0,427.9 1051.1,425.7Q1047.2,425.0 1047.4,421.0Q1046.7,403.9 1048.8,387.0Q1049.0,383.0 1053.0,383.5Z" fill="#fff" stroke="#ac226d" stroke-width="4.8" stroke-linejoin="round"/>
<path d="M1054.5,434.1Q1058.1,431.9 1062.2,432.5Q1066.1,431.6 1066.7,435.6Q1070.3,450.7 1071.2,466.3Q1071.8,470.3 1068.0,471.6Q1065.6,474.0 1062.3,473.7Q1058.5,475.0 1057.7,471.1Q1053.2,455.3 1051.4,438.9Q1050.6,435.0 1054.5,434.1Z" fill="#fff" stroke="#ac226d" stroke-width="4.8" stroke-linejoin="round"/>
<path d="M1065.8,477.8Q1068.6,475.6 1072.1,476.1Q1076.0,475.1 1077.2,478.9Q1083.3,493.5 1086.7,508.9Q1087.9,512.7 1084.3,514.5Q1082.9,516.8 1080.2,516.6Q1076.6,518.4 1075.2,514.7Q1067.9,499.1 1063.3,482.5Q1061.9,478.8 1065.8,477.8Z" fill="#fff" stroke="#ac226d" stroke-width="4.8" stroke-linejoin="round"/>
<path d="M1081.4,522.5L1087.5,519.0Q1090.1,517.5 1091.1,520.3L1103.4,557.1Q1104.0,559.0 1102.8,560.6L1102.2,561.4Q1101.0,563.0 1100.0,561.3L1080.3,526.6Q1078.8,524.0 1081.4,522.5Z" fill="#fff" stroke="#ac226d" stroke-width="4.8" stroke-linejoin="round"/>
<line x1="1231.5" y1="381.5" x2="1274.6" y2="329.8" stroke="#ee72a8" stroke-width="4.4" stroke-linecap="round"/>
<circle cx="1231.5" cy="381.5" r="7.9" fill="#ee72a8"/>
<text x="1213.0" y="312.8" font-size="41.6" font-weight="normal" fill="#ee72a8" textLength="131.0" lengthAdjust="spacingAndGlyphs">Utérus</text>
<line x1="1270.5" y1="505.0" x2="1451.7" y2="546.0" stroke="#ee72a8" stroke-width="4.4" stroke-linecap="round"/>
<circle cx="1270.5" cy="505.0" r="7.9" fill="#ee72a8"/>
<text x="1452.0" y="565.6" font-size="41.6" font-weight="normal" fill="#ee72a8" textLength="123.0" lengthAdjust="spacingAndGlyphs">Vessie</text>
<line x1="1186.0" y1="584.0" x2="1391.2" y2="660.2" stroke="#000" stroke-width="7.4" stroke-linecap="round"/>
<circle cx="1186.0" cy="584.0" r="8.5" fill="#000"/>
<text x="1401.5" y="683.0" font-size="48.6" font-weight="bold" fill="#000" stroke="#000" stroke-width="1.1" stroke-linejoin="round" textLength="244.0" lengthAdjust="spacingAndGlyphs">Prolapsus</text>
<text x="1401.8" y="733.2" font-size="48.6" font-weight="bold" fill="#000" stroke="#000" stroke-width="1.1" stroke-linejoin="round" textLength="256.5" lengthAdjust="spacingAndGlyphs">du rectum</text>
</g>
<g id="enterocele">
<text x="1990.8 2051.4 2111.5 2145.3 2202.6 2239.6 2299.1 2347.4 2401.8 2430.4" y="80.9" font-size="90.5" font-weight="normal" fill="#000" stroke="#000" stroke-width="3.8" stroke-linejoin="round">Entérocèle</text>
<path d="M2006.0,372.5C2008.8,372.3 2012.7,373.4 2015.0,375.0C2017.3,376.6 2019.3,379.1 2020.0,382.0C2020.7,384.9 2019.8,388.7 2019.0,392.5C2018.2,396.3 2015.8,400.8 2015.0,405.0C2014.2,409.2 2013.8,413.8 2014.0,418.0C2014.2,422.2 2014.6,424.7 2016.0,430.0C2017.4,435.3 2019.3,444.2 2022.5,450.0C2025.7,455.8 2030.4,459.2 2035.0,465.0C2039.6,470.8 2045.0,478.3 2050.0,485.0C2055.0,491.7 2060.0,498.3 2065.0,505.0C2070.0,511.7 2075.0,518.3 2080.0,525.0C2085.0,531.7 2090.0,538.3 2095.0,545.0C2100.0,551.7 2105.8,558.3 2110.0,565.0C2114.2,571.7 2118.2,578.8 2120.0,585.0C2121.8,591.2 2121.4,597.0 2121.0,602.0C2120.6,607.0 2120.2,611.6 2117.5,615.0C2114.8,618.4 2109.6,621.2 2105.0,622.5C2100.4,623.8 2095.0,624.2 2090.0,622.5C2085.0,620.8 2079.2,616.7 2075.0,612.5C2070.8,608.3 2068.3,602.1 2065.0,597.5C2061.7,592.9 2057.1,588.8 2055.0,585.0C2052.9,581.2 2054.6,577.9 2052.5,575.0C2050.4,572.1 2045.8,571.7 2042.5,567.5C2039.2,563.3 2035.0,557.1 2032.5,550.0C2030.0,542.9 2029.6,533.3 2027.5,525.0C2025.4,516.7 2022.9,508.3 2020.0,500.0C2017.1,491.7 2013.8,483.0 2010.0,475.0C2006.2,467.0 2000.4,457.0 1997.5,452.0C1994.6,447.0 1994.2,448.7 1992.5,445.0C1990.8,441.3 1988.3,435.0 1987.5,430.0C1986.7,425.0 1986.4,418.8 1987.5,415.0C1988.6,411.2 1993.4,410.4 1994.0,407.5C1994.6,404.6 1991.2,401.2 1991.0,397.5C1990.8,393.8 1991.3,388.6 1992.5,385.0C1993.7,381.4 1995.8,378.1 1998.0,376.0C2000.2,373.9 2003.2,372.7 2006.0,372.5Z" fill="#fad4e5"/>
<path d="M2160.0,396.0C2166.2,396.4 2172.7,397.8 2177.5,401.0C2182.3,404.2 2186.5,409.8 2189.0,415.0C2191.5,420.2 2192.5,426.7 2192.5,432.5C2192.5,438.3 2190.7,444.2 2189.0,450.0C2187.3,455.8 2184.2,461.7 2182.5,467.5C2180.8,473.3 2179.9,478.8 2179.0,485.0C2178.1,491.2 2177.4,497.5 2177.0,505.0C2176.6,512.5 2177.3,523.8 2176.5,530.0C2175.7,536.2 2174.8,539.3 2172.0,542.0C2169.2,544.7 2163.7,546.2 2160.0,546.0C2156.3,545.8 2152.2,543.2 2150.0,541.0C2147.8,538.8 2147.8,533.7 2146.5,533.0C2145.2,532.3 2144.2,536.2 2142.0,537.0C2139.8,537.8 2136.0,538.3 2133.0,537.5C2130.0,536.7 2126.3,534.9 2124.0,532.0C2121.7,529.1 2120.1,525.3 2119.0,520.0C2117.9,514.7 2117.8,507.5 2117.5,500.0C2117.2,492.5 2117.2,483.3 2117.5,475.0C2117.8,466.7 2118.6,459.2 2119.0,450.0C2119.4,440.8 2118.8,427.2 2120.0,420.0C2121.2,412.8 2123.2,410.5 2126.5,407.0C2129.8,403.5 2134.4,400.6 2140.0,398.8C2145.6,397.0 2153.8,395.6 2160.0,396.0Z" fill="#fad4e5"/>
<path d="M2292.5,470.0C2290.2,467.4 2286.2,464.7 2280.0,464.5C2273.8,464.3 2263.3,467.7 2255.0,469.0C2246.7,470.3 2238.3,471.3 2230.0,472.5C2221.7,473.7 2211.7,474.8 2205.0,476.0C2198.3,477.2 2193.8,478.1 2190.0,480.0C2186.2,481.9 2184.3,484.2 2182.5,487.5C2180.7,490.8 2179.6,495.9 2179.0,500.0C2178.4,504.1 2178.4,507.0 2179.0,512.0C2179.6,517.0 2180.7,522.8 2182.5,530.0C2184.3,537.2 2187.1,547.5 2190.0,555.0C2192.9,562.5 2197.5,569.6 2200.0,575.0C2202.5,580.4 2203.3,588.8 2205.0,587.5C2206.7,586.2 2209.0,575.0 2210.0,567.5C2211.0,560.0 2210.3,548.8 2211.0,542.5C2211.7,536.2 2210.8,533.3 2214.0,530.0C2217.2,526.7 2224.0,525.0 2230.0,522.5C2236.0,520.0 2243.3,517.9 2250.0,515.0C2256.7,512.1 2264.2,508.8 2270.0,505.0C2275.8,501.2 2281.1,496.7 2285.0,492.5C2288.9,488.3 2292.2,483.8 2293.5,480.0C2294.8,476.2 2294.8,472.6 2292.5,470.0Z" fill="#fad4e5"/>
<line x1="2146.0" y1="450.0" x2="2145.5" y2="535.0" stroke="#fff" stroke-width="2.0" stroke-linecap="round"/>
<line x1="2184.0" y1="468.0" x2="2176.5" y2="538.0" stroke="#fff" stroke-width="2.8" stroke-linecap="round"/>
<path d="M2061.0,306.0C2066.4,305.2 2073.3,308.5 2077.5,312.5C2081.7,316.5 2084.4,324.2 2086.0,330.0C2087.6,335.8 2087.6,341.2 2087.0,347.5C2086.4,353.8 2084.3,360.8 2082.5,367.5C2080.7,374.2 2077.4,381.2 2076.0,387.5C2074.6,393.8 2073.8,399.2 2074.0,405.0C2074.2,410.8 2075.2,416.7 2077.5,422.5C2079.8,428.3 2083.9,435.1 2087.5,440.0C2091.1,444.9 2095.7,447.0 2099.0,452.0C2102.3,457.0 2105.2,463.7 2107.5,470.0C2109.8,476.3 2111.2,482.9 2112.5,490.0C2113.8,497.1 2113.8,505.4 2115.0,512.5C2116.2,519.6 2117.5,526.2 2120.0,532.5C2122.5,538.8 2125.8,544.2 2130.0,550.0C2134.2,555.8 2140.8,561.7 2145.0,567.5C2149.2,573.3 2152.5,579.2 2155.0,585.0C2157.5,590.8 2159.6,597.9 2160.0,602.5C2160.4,607.1 2159.2,610.0 2157.5,612.5C2155.8,615.0 2153.8,616.2 2150.0,617.5C2146.2,618.8 2138.8,620.4 2135.0,620.0C2131.2,619.6 2129.3,618.3 2127.5,615.0C2125.7,611.7 2125.2,605.0 2124.0,600.0C2122.8,595.0 2122.3,590.8 2120.0,585.0C2117.7,579.2 2114.2,571.7 2110.0,565.0C2105.8,558.3 2100.0,551.7 2095.0,545.0C2090.0,538.3 2085.0,531.7 2080.0,525.0C2075.0,518.3 2070.0,511.7 2065.0,505.0C2060.0,498.3 2054.8,491.7 2050.0,485.0C2045.2,478.3 2039.8,470.8 2036.0,465.0C2032.2,459.2 2028.9,454.2 2027.0,450.0C2025.1,445.8 2025.5,445.0 2024.5,440.0C2023.5,435.0 2021.6,426.7 2021.0,420.0C2020.4,413.3 2020.2,406.7 2021.0,400.0C2021.8,393.3 2024.3,386.7 2026.0,380.0C2027.7,373.3 2029.5,367.1 2031.0,360.0C2032.5,352.9 2032.7,344.6 2035.0,337.5C2037.3,330.4 2040.7,322.8 2045.0,317.5C2049.3,312.2 2055.6,306.8 2061.0,306.0Z" fill="#939598" stroke="#fff" stroke-width="2.6" paint-order="stroke"/>
<path d="M2000.0,129.2C1998.9,132.7 1996.2,143.4 1993.6,149.9C1991.0,156.4 1988.1,161.8 1984.2,168.1C1980.4,174.4 1975.9,180.2 1970.4,187.9C1964.9,195.5 1957.9,205.1 1951.5,213.9C1945.0,222.7 1937.4,232.8 1931.5,240.7C1925.5,248.6 1920.3,255.0 1915.7,261.2C1911.1,267.4 1907.6,272.5 1904.0,278.1C1900.5,283.8 1897.4,289.4 1894.4,295.1C1891.4,300.7 1888.7,306.4 1886.2,312.0C1883.6,317.7 1881.5,323.1 1879.3,329.0C1877.1,334.8 1875.1,340.5 1873.0,347.0C1870.9,353.6 1868.6,360.9 1866.6,368.2C1864.6,375.5 1862.6,383.7 1861.1,391.1C1859.6,398.4 1858.4,405.3 1857.7,412.1C1856.9,418.8 1856.6,425.2 1856.6,431.8C1856.5,438.4 1856.9,445.2 1857.4,451.6C1857.9,457.9 1858.5,463.8 1859.7,470.1C1860.9,476.3 1862.4,482.5 1864.6,489.1C1866.9,495.6 1870.0,503.0 1873.3,509.6C1876.6,516.1 1880.7,522.3 1884.7,528.3C1888.7,534.3 1892.9,539.6 1897.3,545.3C1901.7,551.0 1906.4,556.7 1910.9,562.3C1915.5,567.9 1920.1,573.5 1924.7,579.0C1929.2,584.5 1933.6,589.9 1938.2,595.3C1942.8,600.7 1947.2,606.0 1952.1,611.5C1956.9,617.0 1962.0,622.7 1967.3,628.3C1972.7,633.9 1978.6,639.6 1984.0,645.3C1989.4,651.0 1995.0,656.6 1999.8,662.3C2004.5,667.9 2008.9,673.8 2012.5,679.2C2016.1,684.6 2019.0,690.0 2021.1,694.8C2023.2,699.7 2024.2,704.0 2025.1,708.4C2026.0,712.8 2026.2,719.0 2026.4,721.1" fill="none" stroke="#ac226d" stroke-width="12.6" stroke-linecap="round" stroke-linejoin="round"/>
<path d="M2017.5,159.5L2016.3,162.3L2014.7,166.1L2012.7,170.6L2010.6,175.5L2008.2,180.6L2005.6,185.6L2002.9,190.6L1999.9,195.8L1996.7,201.2L1993.3,206.8L1989.8,212.5L1986.1,218.3L1982.3,224.1L1978.2,230.1L1974.0,236.2L1969.7,242.4L1965.4,248.7L1961.3,255.1L1957.2,261.5L1953.2,268.0L1949.2,274.5L1945.3,281.2L1941.6,288.0L1938.1,294.8L1935.0,301.8L1932.0,308.9L1929.3,316.0L1926.8,323.2L1924.5,330.2L1922.5,337.2L1920.8,344.0L1919.3,350.9L1918.0,357.6L1917.0,364.3L1916.1,370.7L1915.4,376.8L1914.9,382.6L1914.6,388.2L1914.5,393.6L1914.5,398.8L1914.6,403.9L1914.9,408.9L1915.2,413.8L1915.6,418.5L1916.2,423.1L1916.9,427.6L1917.7,432.2L1918.5,436.9L1919.5,441.7L1920.5,446.6L1921.6,451.5L1922.8,456.5L1924.1,461.5L1925.5,466.6L1926.9,471.7L1928.5,476.9L1930.2,482.1L1931.9,487.3L1933.7,492.5L1935.6,497.7L1937.5,502.9L1939.4,508.2L1941.5,513.4L1943.6,518.6L1945.8,523.7L1948.1,528.9L1950.4,534.0L1952.8,539.2L1955.3,544.3L1957.9,549.4L1960.5,554.5L1963.4,559.4L1966.3,564.2L1969.4,569.0L1972.6,573.7L1975.8,578.3L1979.1,582.7L1982.5,586.9L1985.9,590.9L1989.4,594.8L1993.0,598.5L1996.5,602.0L2000.0,605.3L2003.4,608.3L2006.7,611.0L2009.9,613.6L2013.1,615.8L2016.3,617.9L2019.3,619.6L2022.2,621.1L2025.0,622.4L2027.7,623.3L2030.4,623.9L2032.9,624.3L2035.3,624.5L2037.7,624.5L2040.0,624.2L2042.3,623.5L2044.4,622.7L2046.3,621.7L2048.1,620.5L2049.8,619.3L2051.4,618.0L2052.9,616.4L2054.2,614.7L2055.5,613.0L2056.5,611.3L2057.4,609.5L2058.2,607.8L2058.7,606.0L2059.1,604.2L2059.4,602.5L2059.5,600.8L2059.5,599.2L2059.4,597.5L2059.0,595.9L2058.6,594.3L2058.1,593.0L2057.7,592.0L2057.5,591.3A2.20,2.20 0 0 0 2053.3,592.7L2053.6,593.5L2054.0,594.6L2054.4,595.7L2054.8,597.0L2055.1,598.2L2055.2,599.3L2055.1,600.6L2055.0,602.0L2054.8,603.4L2054.5,604.9L2054.0,606.3L2053.4,607.7L2052.7,609.1L2051.8,610.6L2050.7,612.1L2049.6,613.5L2048.4,614.8L2047.1,615.9L2045.6,616.9L2044.1,617.9L2042.5,618.7L2040.9,619.4L2039.1,619.8L2037.4,620.1L2035.4,620.1L2033.4,620.0L2031.2,619.6L2029.0,619.1L2026.6,618.3L2024.1,617.2L2021.4,615.8L2018.6,614.1L2015.6,612.2L2012.5,610.0L2009.4,607.6L2006.2,605.0L2003.0,602.0L1999.6,598.9L1996.1,595.4L1992.6,591.8L1989.2,588.0L1985.9,584.1L1982.6,580.0L1979.4,575.7L1976.2,571.2L1973.1,566.6L1970.0,561.9L1967.1,557.1L1964.4,552.3L1961.8,547.4L1959.2,542.4L1956.8,537.3L1954.4,532.2L1952.1,527.1L1949.8,522.0L1947.7,516.9L1945.6,511.7L1943.5,506.6L1941.6,501.4L1939.7,496.3L1937.9,491.1L1936.1,485.9L1934.3,480.7L1932.7,475.6L1931.1,470.5L1929.7,465.4L1928.3,460.4L1927.1,455.5L1925.9,450.5L1924.8,445.7L1923.8,440.9L1922.9,436.1L1922.0,431.4L1921.3,426.9L1920.6,422.5L1920.0,418.0L1919.6,413.4L1919.2,408.6L1919.0,403.7L1918.9,398.7L1918.9,393.6L1919.0,388.4L1919.3,382.9L1919.8,377.2L1920.5,371.2L1921.3,364.9L1922.4,358.4L1923.6,351.7L1925.0,345.0L1926.7,338.3L1928.7,331.5L1931.0,324.6L1933.4,317.5L1936.1,310.5L1939.0,303.5L1942.1,296.7L1945.5,290.0L1949.1,283.4L1952.9,276.8L1956.9,270.3L1961.0,263.8L1965.0,257.4L1969.1,251.1L1973.3,244.9L1977.6,238.7L1981.8,232.6L1986.0,226.6L1989.9,220.7L1993.5,214.9L1997.1,209.1L2000.5,203.5L2003.7,198.0L2006.6,192.6L2009.3,187.5L2011.8,182.3L2014.0,177.0L2016.1,171.9L2017.8,167.3L2019.2,163.5L2020.3,160.7A1.50,1.50 0 0 0 2017.5,159.5Z" fill="#ac226d"/>
<path d="M2062.2,595.6C2062.7,597.6 2063.3,603.4 2065.0,607.5C2066.7,611.6 2069.2,616.6 2072.5,620.0C2075.8,623.4 2080.8,626.3 2085.0,628.0C2089.2,629.7 2093.8,630.1 2098.0,630.0C2102.2,629.9 2107.2,628.5 2110.0,627.5C2112.8,626.5 2114.2,624.6 2115.0,624.0" fill="none" stroke="#ac226d" stroke-width="4.4" stroke-linecap="round" stroke-linejoin="round"/>
<path d="M2169.5,621.0C2169.4,619.2 2169.8,614.8 2169.0,610.0C2168.2,605.2 2166.9,598.3 2165.0,592.5C2163.1,586.7 2160.4,580.4 2157.5,575.0C2154.6,569.6 2151.1,564.6 2147.5,560.0C2143.9,555.4 2138.2,550.6 2136.0,547.5C2133.8,544.4 2133.5,542.8 2134.0,541.5C2134.5,540.2 2137.2,540.1 2139.0,540.0C2140.8,539.9 2141.9,540.1 2145.0,541.0C2148.1,541.9 2153.8,544.5 2157.5,545.5C2161.2,546.5 2164.4,547.8 2167.5,547.0C2170.6,546.2 2173.8,542.2 2176.0,541.0C2178.2,539.8 2179.1,537.7 2181.0,540.0C2182.9,542.3 2184.8,548.3 2187.5,555.0C2190.2,561.7 2194.8,571.7 2197.5,580.0C2200.2,588.3 2202.3,597.6 2204.0,605.0C2205.7,612.4 2206.9,621.2 2207.5,624.5" fill="none" stroke="#ac226d" stroke-width="4.4" stroke-linecap="round" stroke-linejoin="round"/>
<path d="M2396.5,167.9L2396.2,172.2L2395.9,178.2L2395.5,185.3L2395.1,192.8L2394.7,200.2L2394.3,206.9L2393.9,212.9L2393.5,218.9L2393.1,224.8L2392.6,230.5L2392.1,236.0L2391.6,241.3L2391.0,246.2L2390.4,250.8L2389.8,255.2L2389.1,259.6L2388.4,264.1L2387.6,268.9L2386.7,273.9L2385.7,278.9L2384.7,284.1L2383.6,289.5L2382.4,295.1L2381.1,301.0L2379.7,307.3L2378.1,314.0L2376.5,320.9L2374.7,327.9L2372.9,334.9L2371.1,341.7L2369.2,348.4L2367.3,355.2L2365.2,362.0L2363.2,368.7L2361.1,375.2L2359.2,381.3L2357.2,387.2L2355.2,392.8L2353.3,398.3L2351.4,403.5L2349.5,408.6L2347.8,413.5L2346.1,418.1L2344.6,422.5L2343.2,426.6L2341.8,430.6L2340.3,434.6L2338.7,438.7L2337.0,442.8L2335.4,447.0L2333.8,451.1L2332.0,455.1L2330.0,459.1L2327.8,463.1L2325.4,467.1L2322.7,471.2L2319.9,475.3L2316.9,479.3L2313.7,483.1L2310.3,486.7L2306.7,490.1L2302.8,493.4L2298.8,496.6L2294.6,499.5L2290.2,502.4L2285.9,505.0L2281.5,507.5L2276.8,509.8L2272.1,511.9L2267.3,513.9L2262.7,515.7L2258.3,517.4L2254.1,519.0L2249.9,520.3L2245.9,521.5L2242.0,522.6L2238.3,523.6L2234.8,524.5L2231.4,525.3L2228.1,526.1L2225.0,526.7L2222.3,527.2L2219.9,527.7L2218.2,528.0A2.20,2.20 0 0 0 2219.0,532.4L2220.8,532.0L2223.1,531.6L2225.9,531.0L2229.1,530.4L2232.4,529.6L2235.9,528.8L2239.4,527.8L2243.1,526.8L2247.1,525.7L2251.2,524.5L2255.5,523.1L2259.8,521.6L2264.3,519.8L2269.0,518.0L2273.8,516.0L2278.7,513.8L2283.5,511.4L2288.1,508.8L2292.6,506.1L2297.0,503.2L2301.4,500.1L2305.6,496.8L2309.6,493.4L2313.4,489.8L2317.0,486.0L2320.3,482.0L2323.5,477.9L2326.4,473.7L2329.1,469.5L2331.7,465.3L2334.0,461.1L2336.0,457.0L2337.8,452.8L2339.5,448.6L2341.1,444.5L2342.8,440.3L2344.4,436.2L2345.9,432.1L2347.3,428.1L2348.8,423.9L2350.3,419.6L2351.9,415.0L2353.7,410.1L2355.5,405.0L2357.4,399.8L2359.4,394.3L2361.4,388.6L2363.3,382.7L2365.3,376.5L2367.4,370.0L2369.4,363.3L2371.5,356.5L2373.5,349.6L2375.4,342.8L2377.2,336.0L2379.0,329.0L2380.7,321.9L2382.4,315.0L2384.0,308.3L2385.4,302.0L2386.7,296.0L2387.9,290.4L2389.0,285.0L2390.1,279.8L2391.0,274.7L2391.9,269.6L2392.7,264.8L2393.5,260.3L2394.2,255.8L2394.8,251.4L2395.4,246.7L2395.9,241.7L2396.5,236.4L2397.0,230.9L2397.5,225.1L2397.9,219.2L2398.3,213.2L2398.7,207.1L2399.0,200.4L2399.2,193.0L2399.3,185.4L2399.4,178.3L2399.5,172.3L2399.5,168.1A1.50,1.50 0 0 0 2396.5,167.9Z" fill="#ac226d"/>
<path d="M2218.6,530.2C2217.9,535.5 2215.7,552.5 2214.5,562.0C2213.3,571.5 2212.1,579.2 2211.5,587.0C2210.9,594.8 2210.8,603.0 2211.0,609.0C2211.2,615.0 2211.7,619.4 2213.0,623.0C2214.3,626.6 2216.0,628.8 2219.0,630.5C2222.0,632.2 2225.7,633.0 2231.0,633.5C2236.3,634.0 2244.3,633.8 2251.0,633.5C2257.7,633.2 2261.8,633.5 2271.0,632.0C2280.2,630.5 2295.2,627.4 2306.0,624.5C2316.8,621.6 2327.3,617.9 2336.0,614.5C2344.7,611.1 2354.3,605.8 2358.0,604.0" fill="none" stroke="#ac226d" stroke-width="4.4" stroke-linecap="round" stroke-linejoin="round"/>
<path d="M2462.1,163.9L2462.0,171.3L2461.9,181.9L2461.8,193.6L2461.6,204.4L2461.3,213.8L2461.0,223.1L2460.6,232.1L2460.2,240.4L2459.7,248.0L2459.3,254.8L2458.8,261.6L2458.2,268.8L2457.6,276.4L2457.0,284.1L2456.2,292.2L2455.4,300.9L2454.5,310.5L2453.4,320.8L2452.3,331.3L2451.1,341.6L2449.9,351.6L2448.6,361.6L2447.3,371.4L2445.9,381.1L2444.5,390.7L2443.0,400.0L2441.5,409.2L2439.9,418.2L2438.4,427.2L2436.7,436.0L2435.1,444.5L2433.4,452.4L2431.6,459.8L2429.8,466.8L2427.9,473.3L2425.9,479.6L2423.8,485.5L2421.5,491.2L2419.0,496.7L2416.5,502.3L2413.9,507.9L2411.2,513.3L2408.5,518.7L2405.8,524.0L2403.1,529.1L2400.3,534.1L2397.6,538.9L2394.9,543.4L2392.2,547.6L2389.5,551.7L2386.8,555.6L2384.0,559.6L2381.4,563.5L2378.7,567.3L2376.0,571.2L2373.4,575.2L2370.9,579.2L2368.4,583.4L2366.0,587.6L2363.7,591.8L2361.6,595.9L2359.5,600.1L2357.6,604.5L2355.8,609.0L2354.2,613.6L2352.8,618.3L2351.5,623.3L2350.3,628.5L2349.3,634.0L2348.5,639.7L2347.8,645.7L2347.3,651.8L2346.9,658.1L2346.7,664.6L2346.6,671.2L2346.6,677.8L2346.7,684.6L2347.0,691.4L2347.3,698.3L2347.7,705.2L2348.2,712.7L2348.8,720.6L2349.3,727.7L2349.7,732.6A7.10,7.10 0 0 0 2363.9,731.4L2363.5,726.5L2362.9,719.5L2362.3,711.7L2361.9,704.3L2361.5,697.6L2361.2,690.8L2360.9,684.2L2360.8,677.7L2360.8,671.2L2360.9,664.9L2361.1,658.7L2361.4,652.7L2361.8,647.0L2362.4,641.4L2363.0,636.1L2363.8,631.0L2364.8,626.3L2365.8,621.9L2367.1,617.7L2368.4,613.5L2369.9,609.5L2371.6,605.6L2373.4,601.7L2375.3,597.7L2377.3,593.7L2379.5,589.7L2381.8,585.8L2384.1,581.8L2386.5,578.0L2389.0,574.3L2391.6,570.4L2394.2,566.4L2396.8,562.4L2399.5,558.4L2402.3,554.1L2405.1,549.6L2407.9,544.8L2410.7,539.8L2413.5,534.7L2416.2,529.5L2419.0,524.1L2421.8,518.6L2424.6,512.9L2427.2,507.2L2429.8,501.5L2432.3,495.8L2434.8,489.8L2437.1,483.4L2439.2,476.8L2441.2,469.9L2443.1,462.7L2444.9,455.1L2446.6,446.8L2448.3,438.2L2450.0,429.3L2451.6,420.3L2453.1,411.2L2454.7,401.9L2456.1,392.4L2457.6,382.9L2459.0,373.1L2460.3,363.1L2461.6,353.1L2462.9,342.9L2464.0,332.6L2465.2,322.0L2466.2,311.7L2467.2,302.1L2468.0,293.3L2468.7,285.1L2469.4,277.3L2470.0,269.7L2470.5,262.5L2471.0,255.7L2471.5,248.7L2471.9,241.1L2472.4,232.6L2472.8,223.6L2473.1,214.2L2473.4,204.6L2473.6,193.8L2473.7,182.0L2473.8,171.4L2473.9,164.1A5.90,5.90 0 0 0 2462.1,163.9Z" fill="#ac226d"/>
<path d="M2247.5,580.0C2248.8,575.8 2255.4,563.8 2260.0,557.5C2264.6,551.2 2270.0,546.7 2275.0,542.5C2280.0,538.3 2286.2,534.2 2290.0,532.5C2293.8,530.8 2295.4,531.2 2297.5,532.0C2299.6,532.8 2301.2,534.5 2302.5,537.5C2303.8,540.5 2305.4,546.7 2305.0,550.0C2304.6,553.3 2303.3,554.6 2300.0,557.5C2296.7,560.4 2290.4,564.2 2285.0,567.5C2279.6,570.8 2272.9,575.0 2267.5,577.5C2262.1,580.0 2255.8,582.1 2252.5,582.5C2249.2,582.9 2246.2,584.2 2247.5,580.0Z" fill="none" stroke="#ac226d" stroke-width="4.4" stroke-linecap="round" stroke-linejoin="round"/>
<path d="M2024.7,217.3Q2035.9,221.5 2045.8,228.2Q2049.4,230.0 2047.6,233.6Q2040.2,252.1 2030.2,269.4Q2028.4,273.0 2024.9,271.0Q2015.2,267.2 2006.9,261.0Q2003.4,259.0 2004.9,255.3Q2011.0,236.7 2019.6,219.2Q2021.1,215.5 2024.7,217.3Z" fill="#fff" stroke="#ac226d" stroke-width="4.8" stroke-linejoin="round"/>
<path d="M2004.7,267.8Q2014.9,271.2 2023.8,277.2Q2027.4,279.0 2025.2,282.3Q2014.1,301.5 2000.6,319.2Q1998.4,322.5 1994.7,320.9Q1985.1,318.4 1976.6,313.3Q1972.9,311.7 1975.0,308.3Q1985.8,288.1 1999.0,269.4Q2001.1,266.0 2004.7,267.8Z" fill="#fff" stroke="#ac226d" stroke-width="4.8" stroke-linejoin="round"/>
<path d="M1971.3,321.1Q1981.5,322.4 1991.0,326.4Q1994.9,327.5 1992.9,331.0Q1984.9,347.5 1974.4,362.5Q1972.4,366.0 1968.5,364.9Q1962.0,364.6 1956.3,361.6Q1952.4,360.5 1953.8,356.7Q1958.6,339.8 1966.0,323.8Q1967.4,320.0 1971.3,321.1Z" fill="#fff" stroke="#ac226d" stroke-width="4.8" stroke-linejoin="round"/>
<path d="M1954.4,371.5Q1960.6,370.9 1966.4,373.0Q1970.4,373.5 1969.9,377.5Q1968.9,394.9 1965.2,412.0Q1964.7,416.0 1960.8,415.3Q1956.4,415.9 1952.5,413.7Q1948.6,413.0 1948.8,409.0Q1948.1,391.9 1950.2,375.0Q1950.4,371.0 1954.4,371.5Z" fill="#fff" stroke="#ac226d" stroke-width="4.8" stroke-linejoin="round"/>
<path d="M1955.9,422.1Q1959.5,419.9 1963.6,420.5Q1967.5,419.6 1968.1,423.6Q1971.7,438.7 1972.6,454.3Q1973.2,458.3 1969.4,459.6Q1967.0,462.0 1963.7,461.7Q1959.9,463.0 1959.1,459.1Q1954.6,443.3 1952.8,426.9Q1952.0,423.0 1955.9,422.1Z" fill="#fff" stroke="#ac226d" stroke-width="4.8" stroke-linejoin="round"/>
<path d="M1967.2,465.8Q1970.0,463.6 1973.5,464.1Q1977.4,463.1 1978.6,466.9Q1984.7,481.5 1988.1,496.9Q1989.3,500.7 1985.7,502.5Q1984.3,504.8 1981.6,504.6Q1978.0,506.4 1976.6,502.7Q1969.3,487.1 1964.7,470.5Q1963.3,466.8 1967.2,465.8Z" fill="#fff" stroke="#ac226d" stroke-width="4.8" stroke-linejoin="round"/>
<path d="M1982.8,510.5L1988.9,507.0Q1991.5,505.5 1992.5,508.3L2004.8,545.1Q2005.4,547.0 2004.2,548.6L2003.6,549.4Q2002.4,551.0 2001.4,549.3L1981.7,514.6Q1980.2,512.0 1982.8,510.5Z" fill="#fff" stroke="#ac226d" stroke-width="4.8" stroke-linejoin="round"/>
<line x1="2161.0" y1="420.0" x2="2204.5" y2="367.4" stroke="#ee72a8" stroke-width="4.4" stroke-linecap="round"/>
<circle cx="2161.0" cy="420.0" r="7.9" fill="#ee72a8"/>
<text x="2143.0" y="349.0" font-size="41.6" font-weight="normal" fill="#ee72a8" textLength="130.0" lengthAdjust="spacingAndGlyphs">Utérus</text>
<line x1="2250.0" y1="492.5" x2="2430.0" y2="534.8" stroke="#ee72a8" stroke-width="4.4" stroke-linecap="round"/>
<circle cx="2250.0" cy="492.5" r="7.9" fill="#ee72a8"/>
<text x="2432.0" y="553.8" font-size="41.6" font-weight="normal" fill="#ee72a8" textLength="123.0" lengthAdjust="spacingAndGlyphs">Vessie</text>
<line x1="2059.5" y1="552.0" x2="1902.6" y2="617.5" stroke="#ee72a8" stroke-width="4.4" stroke-linecap="round"/>
<circle cx="2059.5" cy="552.0" r="7.9" fill="#ee72a8"/>
<text x="1774.0" y="658.9" font-size="41.6" font-weight="normal" fill="#ee72a8" textLength="149.0" lengthAdjust="spacingAndGlyphs">Rectum</text>
<line x1="2076.0" y1="479.5" x2="2373.6" y2="673.0" stroke="#000" stroke-width="7.4" stroke-linecap="round"/>
<circle cx="2076.0" cy="479.5" r="8.5" fill="#000"/>
<text x="2380.5" y="657.9" font-size="48.6" font-weight="bold" fill="#000" stroke="#000" stroke-width="1.1" stroke-linejoin="round" textLength="318.0" lengthAdjust="spacingAndGlyphs">Prolapsus de</text>
<text x="2381.0" y="708.1" font-size="48.6" font-weight="bold" fill="#000" stroke="#000" stroke-width="1.1" stroke-linejoin="round" textLength="362.0" lengthAdjust="spacingAndGlyphs">l'intestin grêle</text>
</g>
</svg>
</body>
</html>
